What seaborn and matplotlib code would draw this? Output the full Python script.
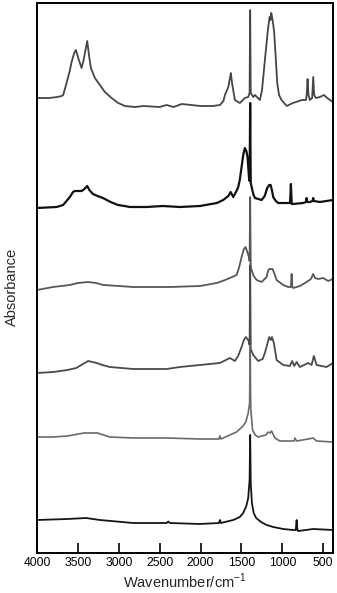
import numpy as np
import pandas as pd
import matplotlib
matplotlib.use("Agg")
import matplotlib.pyplot as plt
import seaborn as sns

# ---------------- data (stacked absorbance, arbitrary units) ----------------
wn1 = [3989, 3850, 3750, 3700, 3680, 3638, 3600, 3577, 3545, 3524, 3496, 3455,
       3430, 3414, 3386, 3361, 3341, 3292, 3231, 3170, 3088, 3007, 2925, 2800,
       2700, 2500, 2415, 2330, 2230, 2000, 1850, 1763, 1720, 1702, 1660, 1640,
       1629, 1615, 1580, 1519, 1458, 1417, 1400, 1393, 1386, 1356, 1335, 1274,
       1250, 1230, 1213, 1190, 1172, 1155, 1145, 1135, 1125, 1110, 1099, 1080,
       1062, 1040, 1009, 947, 870, 760, 710, 700, 691, 680, 663, 635, 622, 610,
       589, 540, 491, 450, 418, 381]
ab1 = [4.55, 4.55, 4.56, 4.57, 4.58, 4.70, 4.82, 4.91, 5.00, 5.03, 4.95, 4.85,
       4.93, 5.00, 5.12, 4.96, 4.85, 4.75, 4.68, 4.61, 4.55, 4.50, 4.47, 4.46,
       4.47, 4.46, 4.48, 4.46, 4.49, 4.47, 4.47, 4.48, 4.52, 4.58, 4.66, 4.75,
       4.80, 4.70, 4.53, 4.50, 4.55, 4.56, 4.60, 5.43, 4.60, 4.56, 4.58, 4.53,
       4.62, 4.78, 4.93, 5.12, 5.26, 5.36, 5.33, 5.40, 5.36, 5.28, 5.20, 4.95,
       4.70, 4.58, 4.53, 4.47, 4.50, 4.53, 4.53, 4.60, 4.74, 4.58, 4.53, 4.55,
       4.76, 4.58, 4.55, 4.56, 4.58, 4.55, 4.53, 4.51]

wn2 = [4000, 3760, 3680, 3640, 3598, 3560, 3536, 3500, 3455, 3420, 3386, 3360,
       3316, 3260, 3194, 3100, 3011, 2930, 2864, 2660, 2460, 2252, 2008, 1800,
       1723, 1660, 1632, 1600, 1560, 1539, 1520, 1498, 1478, 1458, 1440, 1425,
       1408, 1400, 1393, 1386, 1375, 1355, 1335, 1253, 1215, 1185, 1160, 1143,
       1125, 1111, 1080, 1050, 947, 905, 895, 885, 874, 744, 710, 703, 695, 663,
       630, 622, 614, 540, 381]
ab2 = [3.45, 3.46, 3.48, 3.52, 3.56, 3.61, 3.62, 3.62, 3.62, 3.64, 3.67, 3.63,
       3.59, 3.57, 3.55, 3.51, 3.48, 3.47, 3.46, 3.46, 3.47, 3.46, 3.47, 3.50,
       3.53, 3.57, 3.61, 3.56, 3.62, 3.66, 3.73, 3.86, 3.98, 4.05, 4.02, 3.96,
       3.76, 3.72, 4.50, 3.70, 3.66, 3.59, 3.55, 3.53, 3.57, 3.65, 3.68, 3.68,
       3.62, 3.56, 3.52, 3.50, 3.50, 3.50, 3.69, 3.49, 3.49, 3.50, 3.51, 3.55,
       3.51, 3.51, 3.52, 3.55, 3.52, 3.51, 3.53]

wn3 = [4000, 3804, 3700, 3598, 3500, 3374, 3280, 3190, 3000, 2827, 2374, 2008,
       1801, 1700, 1641, 1559, 1530, 1498, 1470, 1449, 1424, 1408, 1400, 1393,
       1386, 1375, 1350, 1314, 1253, 1192, 1175, 1160, 1119, 1095, 1070, 989,
       928, 895, 886, 877, 867, 785, 703, 650, 622, 600, 561, 500, 439, 381]
ab3 = [2.63, 2.66, 2.67, 2.68, 2.70, 2.71, 2.70, 2.68, 2.67, 2.66, 2.66, 2.67,
       2.70, 2.73, 2.75, 2.78, 2.85, 2.96, 3.04, 3.06, 3.00, 2.96, 2.92, 3.56,
       2.86, 2.83, 2.77, 2.73, 2.71, 2.76, 2.82, 2.84, 2.84, 2.79, 2.73, 2.68,
       2.66, 2.66, 2.79, 2.66, 2.65, 2.67, 2.71, 2.74, 2.79, 2.75, 2.74, 2.75,
       2.72, 2.74]

wn4 = [4000, 3800, 3628, 3520, 3458, 3374, 3271, 3200, 3110, 2824, 2416, 2252,
       1763, 1641, 1580, 1540, 1498, 1470, 1446, 1417, 1400, 1393, 1386, 1356,
       1295, 1240, 1213, 1180, 1160, 1140, 1127, 1103, 1070, 989, 907, 879, 854,
       825, 785, 683, 642, 614, 581, 459, 381]
ab4 = [1.80, 1.81, 1.83, 1.85, 1.88, 1.92, 1.90, 1.88, 1.86, 1.84, 1.84, 1.86,
       1.90, 1.95, 1.92, 1.97, 2.06, 2.13, 2.16, 2.13, 2.08, 2.88, 2.04, 1.98,
       1.92, 1.94, 2.00, 2.10, 2.16, 2.13, 2.16, 2.10, 1.93, 1.88, 1.87, 1.92,
       1.87, 1.91, 1.86, 1.90, 1.88, 1.97, 1.88, 1.86, 1.90]

wn5 = [4000, 3800, 3628, 3424, 3261, 3110, 2824, 2416, 2008, 1775, 1763, 1750,
       1641, 1560, 1519, 1480, 1446, 1417, 1400, 1393, 1386, 1364, 1330, 1295,
       1201, 1172, 1150, 1131, 1091, 1030, 855, 846, 825, 683, 622, 581, 381]
ab5 = [1.16, 1.16, 1.17, 1.20, 1.20, 1.16, 1.15, 1.15, 1.14, 1.14, 1.17, 1.14,
       1.18, 1.21, 1.24, 1.27, 1.31, 1.40, 1.50, 2.08, 1.45, 1.23, 1.18, 1.16,
       1.18, 1.21, 1.20, 1.22, 1.15, 1.12, 1.12, 1.15, 1.12, 1.14, 1.15, 1.12,
       1.11]

wn6 = [4000, 3628, 3400, 3231, 2824, 2416, 2395, 2375, 2008, 1775, 1763, 1750,
       1600, 1520, 1478, 1440, 1417, 1400, 1393, 1386, 1372, 1350, 1320, 1260,
       1192, 1111, 989, 867, 835, 825, 815, 805, 622, 381]
ab6 = [0.33, 0.34, 0.35, 0.33, 0.30, 0.30, 0.315, 0.30, 0.29, 0.30, 0.33, 0.30,
       0.33, 0.36, 0.40, 0.47, 0.55, 0.73, 1.18, 0.70, 0.50, 0.40, 0.35, 0.31,
       0.28, 0.26, 0.24, 0.23, 0.23, 0.33, 0.23, 0.22, 0.24, 0.23]

x_ticks = [4000, 3500, 3000, 2500, 2000, 1500, 1000, 500]

series = [(wn1, ab1), (wn2, ab2), (wn3, ab3), (wn4, ab4), (wn5, ab5), (wn6, ab6)]
colors = ["#454545", "#111111", "#575757", "#4a4a4a", "#6a6a6a", "#151515"]
widths = [1.3, 1.6, 1.3, 1.3, 1.2, 1.3]

sns.set_theme(style="white")
plt.rcParams["font.family"] = ["Liberation Sans", "DejaVu Sans"]
plt.rcParams["mathtext.fontset"] = "custom"
plt.rcParams["mathtext.rm"] = "Liberation Sans"

fig = plt.figure(figsize=(3.37, 5.93), dpi=100)
ax = fig.add_axes([37 / 337, 40 / 593, 296 / 337, 550 / 593])

for (w, a), c, lw in zip(series, colors, widths):
    df = pd.DataFrame({"wn": w, "abs": a})
    sns.lineplot(data=df, x="wn", y="abs", ax=ax, color=c, linewidth=lw,
                 estimator=None, sort=True)

ax.set_xlim(4000, 380)
ax.set_ylim(0, 5.5)
ax.set_xticks(x_ticks)
ax.set_xticklabels([str(t) for t in x_ticks], fontsize=8.7)
ax.set_yticks([])
ax.tick_params(axis="x", direction="in", length=7, width=1.2, colors="black",
               pad=3, bottom=True)
for s in ax.spines.values():
    s.set_color("black")
    s.set_linewidth(1.4)
ax.set_xlabel("Wavenumber/cm$^{-1}$", fontsize=10.5, labelpad=2)
ax.set_ylabel("Absorbance", fontsize=10.5, va="center")
ax.yaxis.set_label_coords(-0.084, 0.484)

fig.savefig("out.png", dpi=100)
